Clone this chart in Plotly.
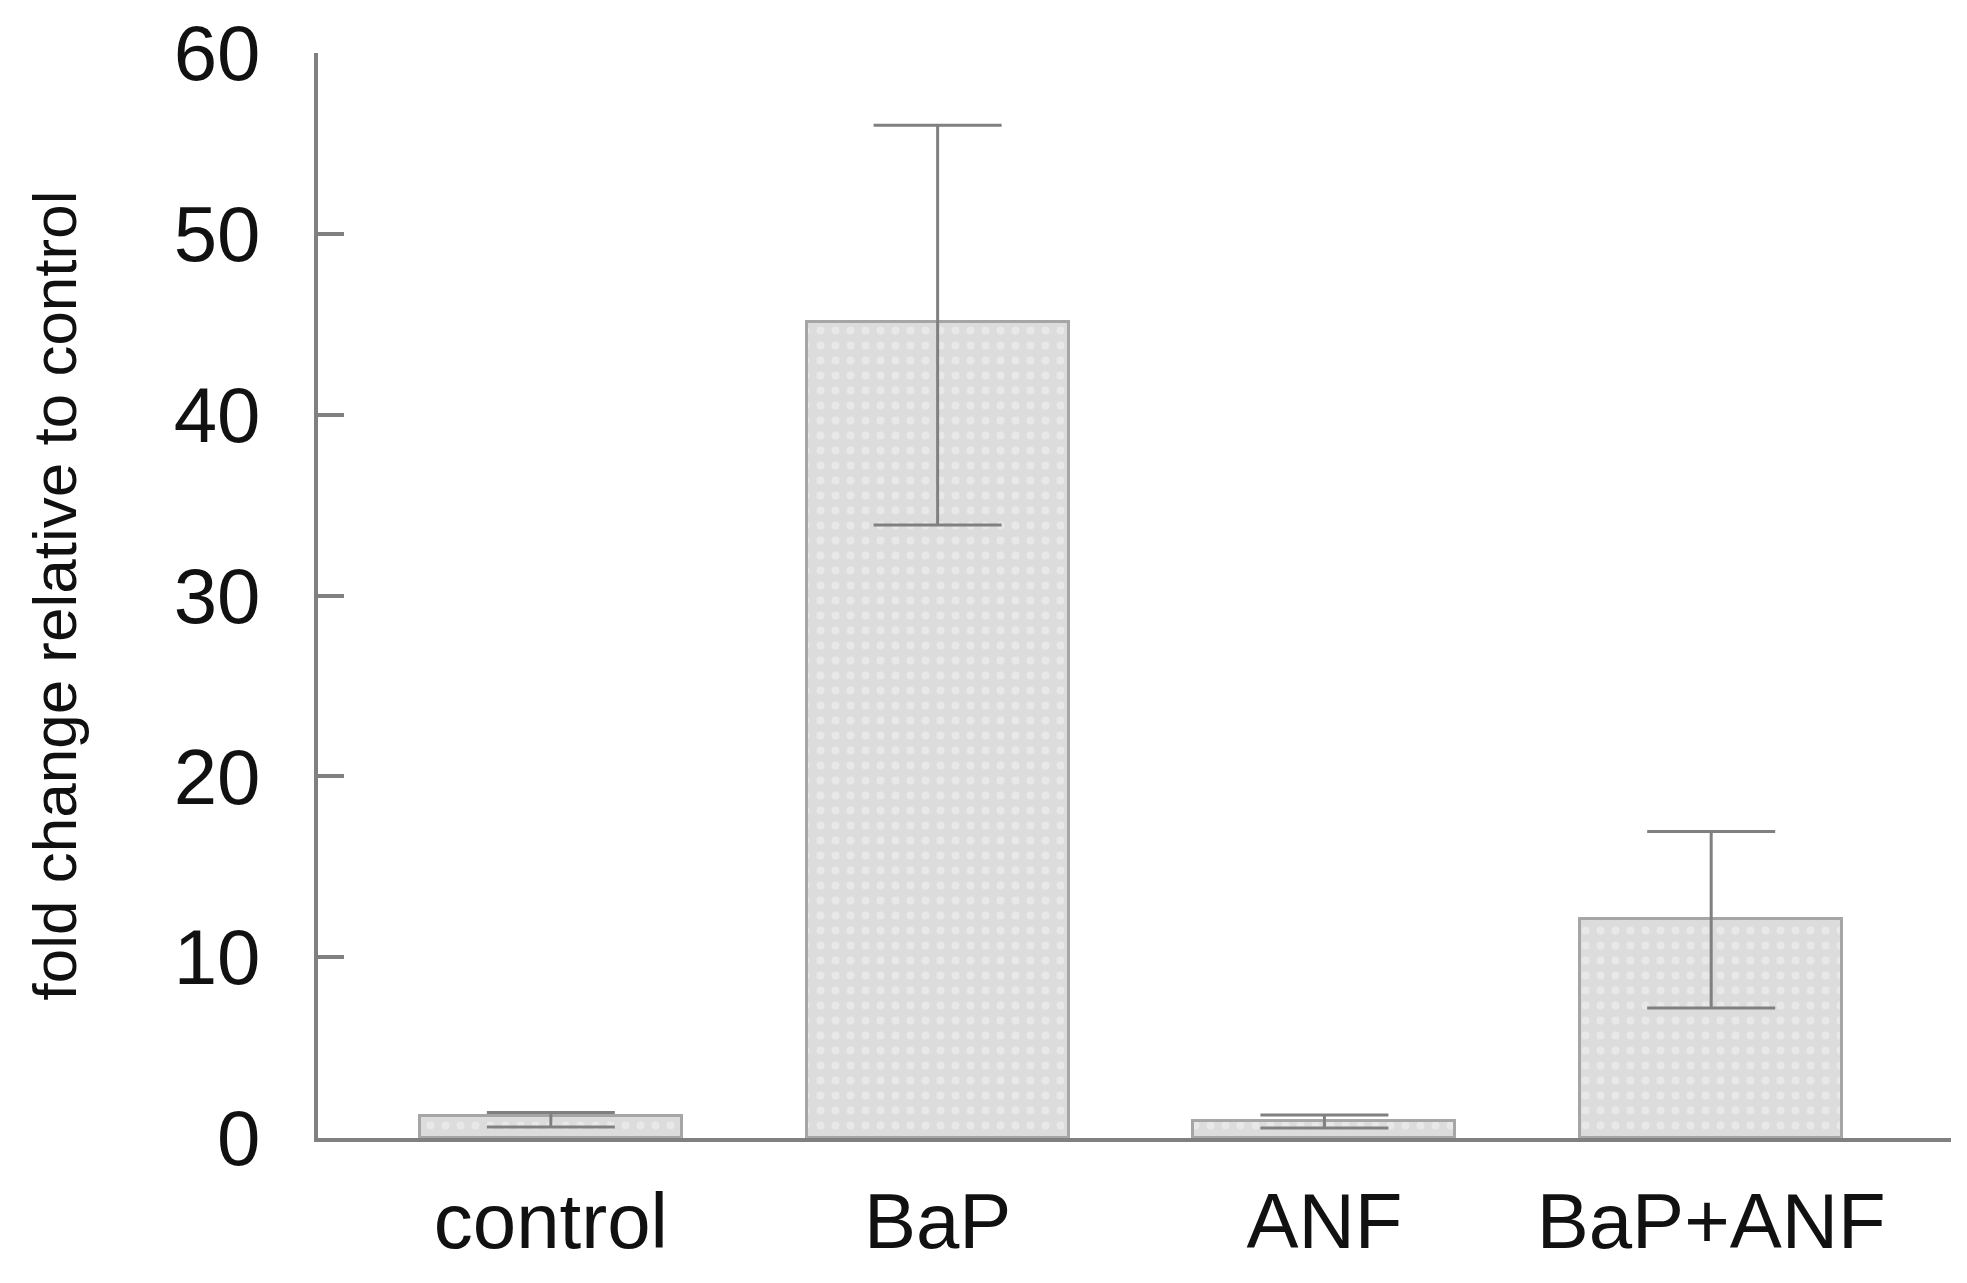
import plotly.graph_objects as go

categories = ["control", "BaP", "ANF", "BaP+ANF"]
fold_change = [1.24, 45.1, 0.94, 12.13]
err_plus = [0.17, 10.9, 0.33, 4.82]
err_minus = [0.63, 11.2, 0.39, 4.94]
y_ticks = [0, 10, 20, 30, 40, 50, 60]

AX = "#808080"
FONT = "Liberation Sans, Arial, sans-serif"

fig = go.Figure()
fig.add_trace(go.Bar(
    x=categories,
    y=fold_change,
    width=0.677,
    marker=dict(
        color="#dcdcdc",
        line=dict(color="#a6a6a6", width=3),
        pattern=dict(shape=".", fgcolor="#f4f4f4", bgcolor="#dcdcdc", size=15, solidity=0.22),
    ),
    error_y=dict(type="data", array=err_plus, arrayminus=err_minus, symmetric=False,
                 color=AX, thickness=3, width=64),
))

fig.update_layout(
    width=1967, height=1283,
    margin=dict(l=310, r=24, t=45, b=153, autoexpand=False),
    paper_bgcolor="white", plot_bgcolor="white",
    showlegend=False,
    font=dict(family=FONT, color="#111111"),
    bargap=0,
)
fig.update_xaxes(
    type="category",
    range=[-0.602, 3.62],
    automargin=False,
    showline=True, linecolor=AX, linewidth=4,
    ticks="", showgrid=False, zeroline=False,
    tickfont=dict(size=78, family=FONT, color="#111111"),
    ticklabelstandoff=12,
)
fig.update_yaxes(
    range=[0, 60],
    tickvals=y_ticks,
    automargin=False,
    showline=True, linecolor=AX, linewidth=4,
    ticks="inside", ticklen=26, tickwidth=4, tickcolor=AX,
    showgrid=False, zeroline=False,
    tickfont=dict(size=78, family=FONT, color="#111111"),
    ticklabelstandoff=38,
    ticklabeloverflow="allow",
    title=dict(text="fold change relative to control",
               font=dict(size=62, family=FONT, color="#111111"), standoff=78),
)

fig.write_html("out.html")
